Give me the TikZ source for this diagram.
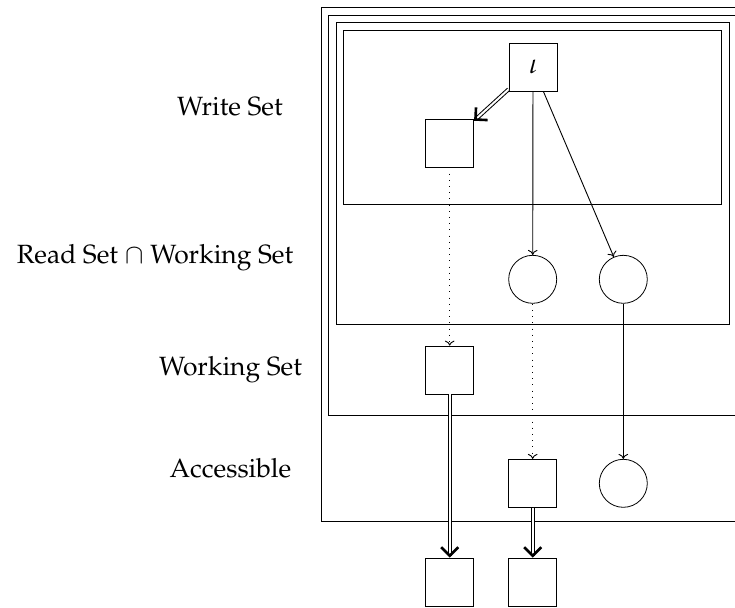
\documentclass[tikz,border=0pt]{standalone}
\usepackage[T1]{fontenc}
\usepackage{mathpazo}
\usetikzlibrary{arrows.meta}

\tikzset{
  sq/.style={draw, rectangle, minimum size=24pt, inner sep=0pt, fill=white},
  rd/.style={draw, circle, minimum size=24pt, inner sep=0pt},
  frame/.style={draw, line width=0.45pt},
  lbl/.style={anchor=base, inner sep=0pt, font=\fontsize{13.2}{16}\selectfont},
  plain/.style={line width=0.45pt, -{To[length=2.5pt,width=4.8pt]}},
  dots/.style={line width=0.45pt, dash pattern=on 0.5pt off 2.6pt, -{To[length=2.5pt,width=4.8pt]}},
  % double reference line, and its heavy barb drawn as a separate pass
  dblline/.style={double, double distance=1pt, line width=0.5pt, shorten >=1pt},
  dbltip/.style={line width=1.3pt, line cap=butt, dash pattern=on 0pt off 4000pt,
    -{Straight Barb[length=4.3pt, width=8.6pt, line width=1.3pt]}},
}

\begin{document}
\begin{tikzpicture}[x=0.5pt, y=-0.5pt]
  \useasboundingbox (0,0) rectangle (735,607);
  \begin{scope}
  \clip (0,0) rectangle (735,607);
  % nested set frames
  \draw[frame] (321,7.3) rectangle (744,521);
  \draw[frame] (328.5,15) rectangle (736.5,415.5);
  \draw[frame] (336,22.7) rectangle (729,324.3);
  \draw[frame] (343.5,30) rectangle (721.7,204);
  \end{scope}

  % row labels
  \node[lbl] (lw) at (230,115) {Write Set};
  \node[lbl] (lr) at (155,263.3) {Read Set $\cap$ Working Set};
  \node[lbl] (lk) at (230.5,375) {Working Set};
  \node[lbl] (la) at (230.5,477.3) {Accessible};

  % objects
  \node[sq, font=\fontsize{14}{16}\selectfont] (io) at (533,67) {$\iota$};
  \node[sq] (w)  at (449.7,143) {};
  \node[rd] (c1) at (532.7,279.3) {};
  \node[rd] (c2) at (623.3,279.3) {};
  \node[sq] (ws) at (449.7,370) {};
  \node[sq] (ac) at (532.7,483.3) {};
  \node[rd] (c3) at (623.3,483.3) {};
  \node[sq] (b1) at (449.7,582) {};
  \node[sq] (b2) at (532.7,582) {};

  % references
  \draw[dblline] (io) -- (w);
  \draw[dbltip] (io) -- (w);
  \draw[plain] (io) -- (c1);
  \draw[plain] (io) -- (c2);
  \draw[dots] (w) -- (ws);
  \draw[dots] (c1) -- (ac);
  \draw[plain] (c2) -- (c3);
  \draw[dblline] (ws) -- (b1);
  \draw[dbltip] (ws) -- (b1);
  \draw[dblline] (ac) -- (b2);
  \draw[dbltip] (ac) -- (b2);
\end{tikzpicture}
\end{document}
